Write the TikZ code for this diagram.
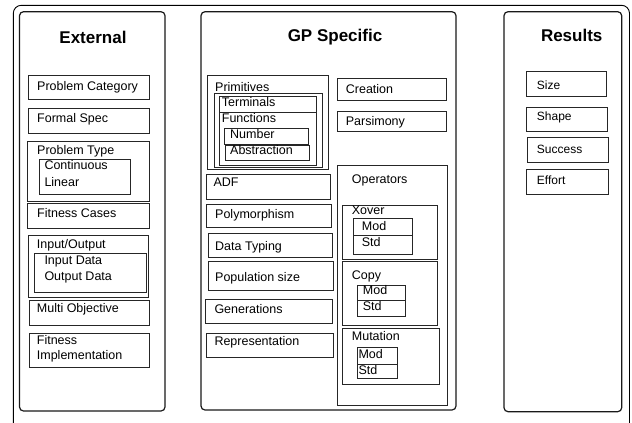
\documentclass[tikz,border=0pt]{standalone}
\usepackage{fontspec}
\setmainfont{Liberation Sans}
\begin{document}
\begin{tikzpicture}[x=1pt,y=-1pt,
  box/.style={draw=black!85,line width=0.9pt},
  panel/.style={draw=black!90,line width=1.2pt,rounded corners=4pt},
  lbl/.style={anchor=west,inner sep=0pt,font=\fontsize{12.5}{14}\selectfont,text height=9pt,text depth=2.5pt},
  rlbl/.style={lbl,font=\fontsize{12}{14}\selectfont},
  ttl/.style={inner sep=0pt,font=\fontsize{17}{20}\selectfont\bfseries}]
\useasboundingbox (0,0) rectangle (632,423);
\clip (0,0) rectangle (632,423);
\fill[white] (0,0) rectangle (632,423);
% outer frame
\draw[line width=0.9pt,rounded corners=8pt] (13.3,440) -- (13.3,5.3) -- (629.5,5.3) -- (629.5,440);
% panels
\draw[panel] (19.5,11.7) rectangle (165,411);
\draw[panel] (201,11.7) rectangle (456,410);
\draw[panel] (504,11.7) rectangle (621.7,411.7);
\node[ttl] (tExt) at (93,37) {External};
\node[ttl] (tGP) at (335,36.7) {GP Specific};
\node[ttl] (tRes) at (571.7,35) {Results};
% External column
\draw[box] (28,75) rectangle (149.3,99.3);
\node[lbl] (pc) at (37,87.5) {Problem Category};
\draw[box] (28.3,108.3) rectangle (149.7,133.3);
\node[lbl] (fs) at (37,119) {Formal Spec};
\draw[box] (27.7,141.3) rectangle (149,201.7);
\node[lbl] (pt) at (37,151.7) {Problem Type};
\draw[box] (39.7,159) rectangle (130.7,194.7);
\node[lbl] (cont) at (44.3,166.7) {Continuous};
\node[lbl] (lin) at (44.3,183.3) {Linear};
\draw[box] (27.7,203.3) rectangle (149.7,228.3);
\node[lbl] (fc) at (37,214) {Fitness Cases};
\draw[box] (28.3,235.7) rectangle (148.7,297.3);
\node[lbl] (io) at (36.7,245) {Input/Output};
\draw[box] (34,253.3) rectangle (146,292.7);
\node[lbl] (ind) at (44.3,261.7) {Input Data};
\node[lbl] (outd) at (44.3,277.7) {Output Data};
\draw[box] (29.3,300) rectangle (149.7,325.3);
\node[lbl] (mo) at (36.7,309.3) {Multi Objective};
\draw[box] (29.3,333.3) rectangle (149,367.7);
\node[lbl] (fi1) at (36.7,341.7) {Fitness};
\node[lbl] (fi2) at (36.7,356.7) {Implementation};
% GP column - primitives
\draw[box] (207.3,75) rectangle (328.3,169.5);
\node[lbl] (prim) at (215,88) {Primitives};
\draw[box] (214,93.3) rectangle (322.3,167.3);
\draw[box] (219.3,96) rectangle (316,165);
\draw[box,line width=1.2pt] (219.3,112.7) -- (316,112.7);
\node[lbl] (term) at (221.7,103.5) {Terminals};
\node[lbl] (func) at (221.7,119) {Functions};
\draw[box] (224,128.3) rectangle (308.3,144);
\node[lbl] (num) at (230,135.5) {Number};
\draw[box] (225,145) rectangle (309.3,160);
\node[lbl] (abs) at (230,151.5) {Abstraction};
% GP left list
\draw[box] (206.7,174) rectangle (330,199);
\node[lbl] (adf) at (213.3,183) {ADF};
\draw[box] (206.7,204) rectangle (331.7,227.3);
\node[lbl] (poly) at (215,215) {Polymorphism};
\draw[box] (208.3,233.3) rectangle (332.7,257.3);
\node[lbl] (dt) at (215,247.3) {Data Typing};
\draw[box] (208.3,261.7) rectangle (333.3,290);
\node[lbl] (pop) at (215,278.3) {Population size};
\draw[box] (205.7,299.3) rectangle (332.7,323.3);
\node[lbl] (gen) at (214.3,310) {Generations};
\draw[box] (206.7,333.3) rectangle (333.3,357.7);
\node[lbl] (rep) at (214.3,342.7) {Representation};
% GP right
\draw[box] (337.7,78.3) rectangle (446.7,100);
\node[lbl] (cre) at (345.7,90) {Creation};
\draw[box] (337.7,111.7) rectangle (446.7,131.7);
\node[lbl] (pars) at (345.7,122.7) {Parsimony};
\draw[box] (337.7,165) rectangle (447.3,405);
\node[lbl] (ops) at (351.7,180) {Operators};
% Xover
\draw[box] (342.7,205) rectangle (437,259.3);
\node[lbl] (xo) at (351.7,211.7) {Xover};
\draw[box] (353.3,218.3) rectangle (412.3,235);
\node[lbl] (xm) at (361.7,227) {Mod};
\draw[box] (353.3,235) rectangle (412.3,254);
\node[lbl] (xs) at (361.7,243.3) {Std};
% Copy
\draw[box] (342.7,261) rectangle (437.7,325);
\node[lbl] (cp) at (351.7,276) {Copy};
\draw[box] (357.3,285) rectangle (405.7,300.7);
\node[lbl] (cm) at (362.7,291.7) {Mod};
\draw[box] (357.3,300.7) rectangle (405.7,316);
\node[lbl] (cs) at (362.7,307.7) {Std};
% Mutation
\draw[box] (342.3,328.3) rectangle (439.3,384.3);
\node[lbl] (mu) at (351.7,337.7) {Mutation};
\draw[box] (357.3,347.7) rectangle (397.3,364);
\node[lbl] (mm) at (358.3,355) {Mod};
\draw[box] (357.3,364) rectangle (397.3,378.3);
\node[lbl] (ms) at (358.3,371) {Std};
% Results
\draw[box] (526.7,71.7) rectangle (606,96.7);
\node[rlbl] (sz) at (536.7,86) {Size};
\draw[box] (526.7,107.3) rectangle (607.3,131);
\node[rlbl] (sh) at (536.7,117.3) {Shape};
\draw[box] (527.3,137.7) rectangle (608.3,162.3);
\node[rlbl] (su) at (536.7,150) {Success};
\draw[box] (526.7,169.3) rectangle (608.3,194.3);
\node[rlbl] (ef) at (536.7,181.7) {Effort};
\end{tikzpicture}
\end{document}
